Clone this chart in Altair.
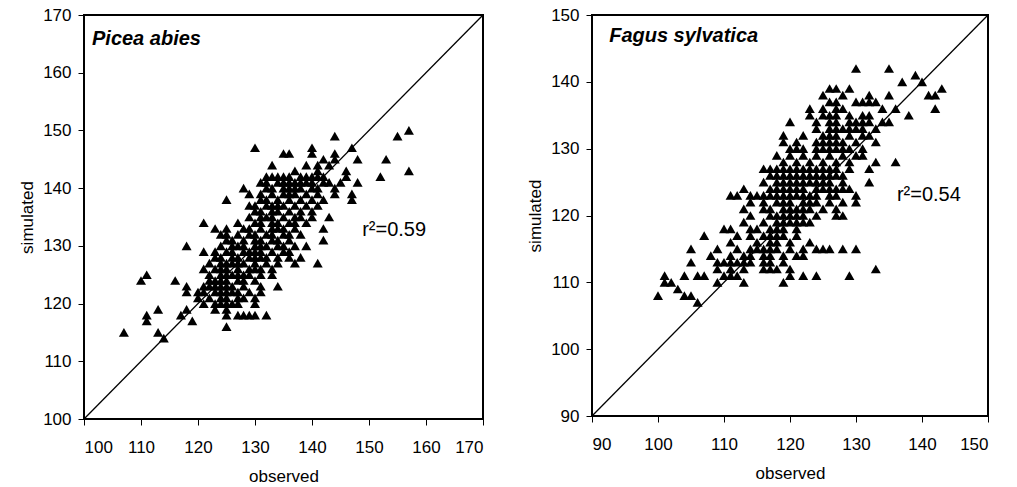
import altair as alt
import pandas as pd

# Picea abies: simulated value -> observed values
picea_rows = {
    150: [157],
    149: [155, 144],
    147: [130, 140, 147],
    146: [135, 136, 140, 144],
    145: [142, 144, 148, 153],
    144: [133, 139, 141, 143],
    143: [137, 141, 146, 157],
    142: [132, 133, 134, 135, 136, 138, 139, 140, 141, 142, 146, 152],
    141: [131, 132, 134, 135, 136, 137, 138, 139, 140, 142, 143, 145, 148],
    140: [128, 132, 133, 135, 136, 137, 138, 140, 141, 144],
    139: [129, 131, 133, 135, 136, 137, 139, 141, 144, 147],
    138: [125, 131, 132, 134, 136, 138, 140, 142, 147],
    137: [129, 130, 132, 133, 134, 135, 137, 139, 141],
    136: [130, 131, 133, 134, 136, 138, 140],
    135: [129, 131, 132, 133, 135, 137, 138, 140, 143],
    134: [121, 127, 130, 131, 133, 134, 136, 137, 139],
    133: [123, 125, 128, 129, 131, 133, 134, 135, 137, 142],
    132: [124, 125, 127, 129, 130, 132, 133, 135, 136, 138],
    131: [125, 126, 128, 130, 131, 133, 134, 136, 142],
    130: [118, 124, 126, 127, 128, 130, 131, 132, 134, 135, 137, 139],
    129: [121, 123, 125, 126, 128, 129, 130, 131, 133, 135, 136],
    128: [123, 124, 126, 127, 129, 130, 131, 132, 134, 136, 138],
    127: [122, 124, 125, 126, 127, 128, 130, 132, 134, 137, 141],
    126: [121, 123, 124, 125, 127, 129, 130, 131, 133],
    125: [111, 122, 124, 125, 126, 127, 128, 129, 131, 133],
    124: [110, 116, 122, 123, 124, 125, 127, 128, 130],
    123: [118, 121, 122, 123, 124, 125, 126, 128, 131, 134],
    122: [118, 120, 121, 123, 124, 125, 126, 127, 129, 131],
    121: [120, 122, 124, 125, 127, 128, 130],
    120: [121, 123, 124, 125, 126, 127, 130],
    119: [113, 118, 123, 125],
    118: [111, 117, 125, 127, 128, 129, 130, 132],
    117: [111, 119],
    116: [125],
    115: [107, 113],
    114: [114],
}

# Fagus sylvatica: simulated value -> observed values
fagus_rows = {
    142: [130, 135],
    141: [139],
    140: [137, 140],
    139: [126, 127, 129, 143],
    138: [125, 128, 132, 135, 141, 142],
    137: [126, 127, 130, 131, 132, 133],
    136: [123, 125, 127, 128, 134, 136, 142],
    135: [123, 125, 126, 127, 129, 131, 132, 138],
    134: [120, 124, 126, 127, 129, 130, 131, 132, 134, 135],
    133: [124, 126, 127, 128, 129, 130, 131, 133],
    132: [119, 122, 125, 126, 127, 129, 131, 132],
    131: [119, 121, 124, 125, 126, 127, 128, 130, 133],
    130: [120, 121, 122, 124, 125, 126, 127, 128, 129, 131],
    129: [118, 120, 122, 124, 126, 128, 130, 131],
    128: [119, 121, 123, 125, 127, 129, 133, 136],
    127: [116, 117, 118, 119, 120, 121, 122, 123, 124, 125, 126, 127, 129, 132],
    126: [117, 118, 119, 120, 121, 122, 123, 124, 125, 126, 127, 128],
    125: [116, 118, 119, 120, 121, 122, 123, 124, 125, 126, 128, 132],
    124: [113, 117, 118, 119, 120, 121, 122, 124, 125, 126, 127, 128, 129],
    123: [111, 112, 114, 115, 116, 117, 118, 119, 120, 121, 122, 123, 124, 126, 127, 130],
    122: [114, 116, 118, 119, 120, 122, 123, 124, 126, 128, 130],
    121: [113, 116, 117, 119, 120, 121, 122, 123, 125, 127],
    120: [114, 117, 118, 119, 120, 121, 122, 124, 127, 128],
    119: [113, 116, 118, 119, 120, 121, 122, 123],
    118: [110, 111, 114, 115, 117, 118, 119, 121],
    117: [107, 112, 114, 116, 117, 118, 119, 121],
    116: [111, 115, 117, 118, 120, 123],
    115: [105, 109, 112, 114, 115, 116, 117, 118, 120, 122, 124, 125, 126, 128, 130],
    114: [108, 111, 113, 114, 116, 117, 119, 121, 122],
    113: [105, 109, 110, 111, 112, 113, 114, 116, 117, 119],
    112: [109, 111, 113, 116, 117, 118, 120, 133],
    111: [101, 104, 106, 107, 110, 111, 112, 120, 122, 124, 129],
    110: [101, 102, 109, 113, 119],
    109: [103],
    108: [100, 104, 105],
    107: [106],
}

picea_ticks = [100, 110, 120, 130, 140, 150, 160, 170]
fagus_ticks = [90, 100, 110, 120, 130, 140, 150]

FONT = "Liberation Sans"


def to_df(rows):
    recs = []
    for sim, obs_list in rows.items():
        for o in obs_list:
            recs.append({"observed": o, "simulated": sim})
    return pd.DataFrame(recs)


def panel(rows, ticks, name, name_pos, r2, r2_pos, w, h):
    lo, hi = ticks[0], ticks[-1]
    sc = alt.Scale(domain=[lo, hi], nice=False, zero=False)
    xax = alt.Axis(values=ticks, title="observed", format="d")
    yax = alt.Axis(values=ticks, title="simulated", format="d")
    pts = alt.Chart(to_df(rows)).mark_point(
        shape="triangle-up", filled=True, color="black", size=100, opacity=1
    ).encode(
        x=alt.X("observed:Q", scale=sc, axis=xax),
        y=alt.Y("simulated:Q", scale=sc, axis=yax),
    )
    line = alt.Chart(pd.DataFrame({"observed": [lo, hi], "simulated": [lo, hi]})).mark_line(
        color="black", strokeWidth=1.3
    ).encode(x=alt.X("observed:Q", scale=sc), y=alt.Y("simulated:Q", scale=sc))
    t1 = alt.Chart(pd.DataFrame({"observed": [name_pos[0]], "simulated": [name_pos[1]], "t": [name]})).mark_text(
        align="left", baseline="alphabetic", font=FONT, fontSize=20, fontStyle="italic",
        fontWeight="bold", color="black"
    ).encode(x=alt.X("observed:Q", scale=sc), y=alt.Y("simulated:Q", scale=sc), text="t:N")
    t2 = alt.Chart(pd.DataFrame({"observed": [r2_pos[0]], "simulated": [r2_pos[1]], "t": [r2]})).mark_text(
        align="left", baseline="alphabetic", font=FONT, fontSize=20, color="black"
    ).encode(x=alt.X("observed:Q", scale=sc), y=alt.Y("simulated:Q", scale=sc), text="t:N")
    return alt.layer(pts, line, t1, t2).properties(width=w, height=h)


left = panel(picea_rows, picea_ticks, "Picea abies", (101.4, 164.8), "r²=0.59", (148.8, 131.7), 399, 404)
right = panel(fagus_rows, fagus_ticks, "Fagus sylvatica", (92.6, 146.0), "r²=0.54", (136.2, 122.2), 396, 401)

chart = alt.hconcat(left, right, spacing=38).properties(
    padding={"left": 17, "top": 5, "right": 5, "bottom": 5}
).configure_view(
    stroke="black", strokeWidth=2
).configure_axis(
    grid=False, domain=False, tickColor="black", tickSize=6, tickWidth=1,
    labelFont=FONT, labelFontSize=17, labelColor="black", labelPadding=7,
    titleFont=FONT, titleFontSize=17, titleFontWeight="normal", titleColor="black",
    titlePadding=6
).configure_axisX(labelPadding=14, titlePadding=13)

chart.save("out.html", embed_options={"renderer": "svg", "actions": False})
